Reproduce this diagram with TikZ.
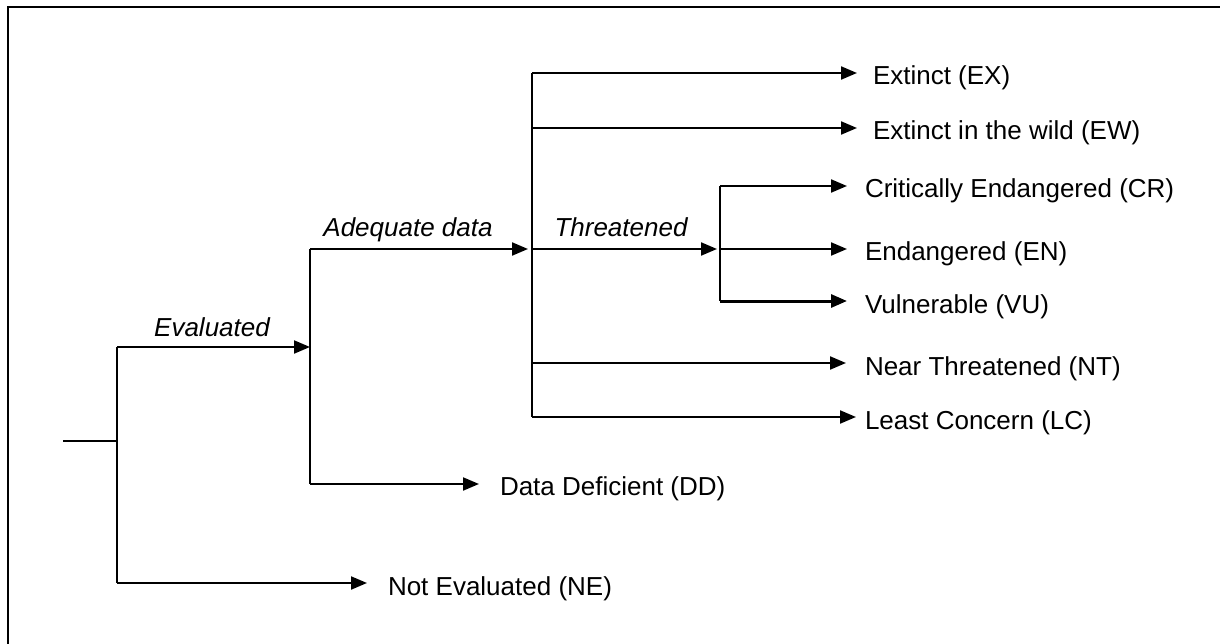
\documentclass[tikz,border=0pt]{standalone}
\usepackage{fontspec}
\setmainfont{Liberation Sans}
\usetikzlibrary{arrows.meta}
\begin{document}
\begin{tikzpicture}[x=1pt,y=-1pt,line width=2pt,
  arr/.style={-{Triangle[length=16pt,width=13pt]}},
  lab/.style={font=\fontsize{26}{30}\selectfont,anchor=base west,inner sep=0pt},
  ital/.style={font=\fontsize{26}{30}\selectfont\itshape,anchor=base,inner sep=0pt}]
\useasboundingbox (0,0) rectangle (1220,644);
\draw[line width=2.5pt] (8,644) -- (8,7) -- (1220,7);
% coordinates
\coordinate (root) at (63,441);
\coordinate (v1) at (117,441);
\coordinate (v1t) at (117,347);
\coordinate (v1b) at (117,583);
\coordinate (v2t) at (310,249);
\coordinate (v2m) at (310,347);
\coordinate (v2b) at (310,484);
\coordinate (v3ex) at (532,73);
\coordinate (v3ew) at (532,128);
\coordinate (v3th) at (532,249);
\coordinate (v3nt) at (532,363);
\coordinate (v3lc) at (532,417);
\coordinate (v4cr) at (720,186);
\coordinate (v4en) at (720,249);
\coordinate (v4vu) at (720,301);
% labels
\node[lab] (ex) at (872,85) {Extinct (EX)};
\node[lab] (ew) at (872,140) {Extinct in the wild (EW)};
\node[lab] (cr) at (864,198) {Critically Endangered (CR)};
\node[lab] (en) at (864,261) {Endangered (EN)};
\node[lab] (vu) at (864,313) {Vulnerable (VU)};
\node[lab] (nt) at (864,375) {Near Threatened (NT)};
\node[lab] (lc) at (864,429) {Least Concern (LC)};
\node[lab] (dd) at (499,495) {Data Deficient (DD)};
\node[lab] (ne) at (387,595) {Not Evaluated (NE)};
\node[ital] (evl) at (212,336) {Evaluated};
\node[ital] (adl) at (408,237) {Adequate data};
\node[ital] (thl) at (621,237) {Threatened};
% tree
\draw (root) -- (v1);
\draw (v1t) -- (v1b);
\draw[arr] (v1t) -- (v2m);
\draw[arr] (v1b) -- ([xshift=-20pt]ne.west |- v1b);
\draw (v2t) -- (v2b);
\draw[arr] (v2t) -- ([xshift=-4pt]v3th);
\draw[arr] (v2b) -- ([xshift=-20pt]dd.west |- v2b);
\draw (v3ex) -- (v3lc);
\draw[arr] (v3ex) -- ([xshift=-15pt]ex.west |- v3ex);
\draw[arr] (v3ew) -- ([xshift=-15pt]ew.west |- v3ew);
\draw[arr] (v3th) -- ([xshift=-3pt]v4en);
\draw[arr] (v3nt) -- ([xshift=-18pt]nt.west |- v3nt);
\draw[arr] (v3lc) -- ([xshift=-8pt]lc.west |- v3lc);
\draw (v4cr) -- (v4vu);
\draw[arr] (v4cr) -- ([xshift=-17pt]cr.west |- v4cr);
\draw[arr] (v4en) -- ([xshift=-17pt]en.west |- v4en);
\draw[arr,line width=3pt] (v4vu) -- ([xshift=-17pt]vu.west |- v4vu);
\end{tikzpicture}
\end{document}
